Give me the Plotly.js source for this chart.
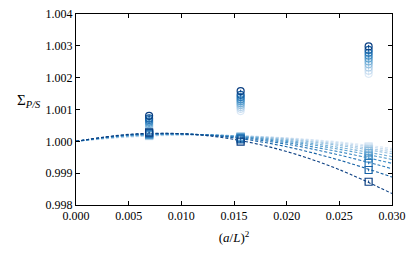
<!DOCTYPE html>
<html>
<head>
<meta charset="utf-8">
<script src="https://cdn.plot.ly/plotly-3.0.1.min.js"></script>
<style>html,body{margin:0;padding:0;background:#fff;}#chart{width:415px;height:255px;}</style>
</head>
<body>
<div id="chart"></div>
<script>
// (a/L)^2 positions of the measurements
const xPoints = [0.00694, 0.01563, 0.02778];

// Circles (upper set), one entry per series, lightest -> darkest
const circAt1 = [1.00038, 1.00042, 1.00046, 1.00050, 1.00054, 1.00058, 1.00062, 1.00067, 1.00072, 1.00080];
const circAt2 = [1.00095, 1.00102, 1.00108, 1.00114, 1.00120, 1.00126, 1.00132, 1.00139, 1.00146, 1.00158];
const circAt3 = [1.00212, 1.00222, 1.00232, 1.00242, 1.00251, 1.00260, 1.00269, 1.00278, 1.00287, 1.00298];

// Squares (lower set)
const sqAt1 = [1.00016, 1.00017, 1.00018, 1.00019, 1.00020, 1.00021, 1.00022, 1.00024, 1.00026, 1.00028];
const sqAt2 = [1.00016, 1.00015, 1.00015, 1.00014, 1.00013, 1.00012, 1.00011, 1.00009, 1.00006, 0.99999];
const sqAt3 = [0.99984, 0.99980, 0.99975, 0.99970, 0.99963, 0.99955, 0.99946, 0.99932, 0.99910, 0.99873];

// Error bar half-widths
const errCirc = [0.00004, 0.00004, 0.00005];
const errSq = [0.00003, 0.00003, 0.00004];

const fitX = [0, 0.005, 0.010, 0.015, 0.020, 0.025, 0.030];
const fit0 = [1, 1.00013, 1.00019, 1.00018, 1.00011, 0.99998, 0.99978];
const fit1 = [1, 1.00014, 1.00020, 1.00018, 1.00010, 0.99995, 0.99973];
const fit2 = [1, 1.00015, 1.00021, 1.00018, 1.00008, 0.99991, 0.99967];
const fit3 = [1, 1.00016, 1.00021, 1.00017, 1.00006, 0.99987, 0.99961];
const fit4 = [1, 1.00017, 1.00022, 1.00017, 1.00003, 0.99981, 0.99952];
const fit5 = [1, 1.00018, 1.00022, 1.00016, 1.00000, 0.99975, 0.99943];
const fit6 = [1, 1.00019, 1.00023, 1.00015, 0.99996, 0.99967, 0.99931];
const fit7 = [1, 1.00020, 1.00023, 1.00013, 0.99991, 0.99957, 0.99914];
const fit8 = [1, 1.00021, 1.00024, 1.00011, 0.99983, 0.99941, 0.99888];
const fit9 = [1, 1.00022, 1.00024, 1.00006, 0.99968, 0.99911, 0.99836];
const fits = [fit0, fit1, fit2, fit3, fit4, fit5, fit6, fit7, fit8, fit9];

const colors = ['#dce9f6', '#c8ddf0', '#b0cfe8', '#95c1e0', '#78b1d8', '#5aa0cf', '#3f8bc3', '#2877b7', '#1561a5', '#0b3f82'];

const serif = 'Liberation Serif, DejaVu Serif, serif';

const traces = [];
for (let i = 0; i < colors.length; i++) {
  traces.push({
    x: fitX, y: fits[i], mode: 'lines', type: 'scatter',
    line: {color: colors[i], width: 1.1, dash: '3px,2px', shape: 'spline'},
    hoverinfo: 'skip', showlegend: false
  });
}
for (let i = 0; i < colors.length; i++) {
  traces.push({
    x: xPoints, y: [circAt1[i], circAt2[i], circAt3[i]], mode: 'markers', type: 'scatter',
    marker: {symbol: 'circle-open', size: 7, color: colors[i], line: {width: 1.2, color: colors[i]}},
    error_y: {type: 'data', array: errCirc, color: colors[i], thickness: 1, width: 0},
    showlegend: false
  });
  traces.push({
    x: xPoints, y: [sqAt1[i], sqAt2[i], sqAt3[i]], mode: 'markers', type: 'scatter',
    marker: {symbol: 'square-open', size: 7, color: colors[i], line: {width: 1.2, color: colors[i]}},
    error_y: {type: 'data', array: errSq, color: colors[i], thickness: 1, width: 0},
    showlegend: false
  });
}

const axisCommon = {
  showline: true, linecolor: '#000', linewidth: 1, mirror: 'ticks',
  ticks: 'inside', ticklen: 4, tickwidth: 1, tickcolor: '#000',
  showgrid: false, zeroline: false,
  tickfont: {family: serif, size: 12, color: '#000'}
};

const layout = {
  width: 415, height: 255,
  margin: {l: 76, r: 23, t: 14, b: 50},
  paper_bgcolor: '#fff', plot_bgcolor: '#fff',
  xaxis: Object.assign({}, axisCommon, {
    range: [0, 0.03], tickvals: [0, 0.005, 0.01, 0.015, 0.02, 0.025, 0.03], tickformat: '.3f',
    title: {text: '(<i>a</i>/<i>L</i>)<sup>2</sup>', font: {family: serif, size: 13, color: '#000'}, standoff: 10}
  }),
  yaxis: Object.assign({}, axisCommon, {
    range: [0.998, 1.004], tickvals: [0.998, 0.999, 1.000, 1.001, 1.002, 1.003, 1.004], tickformat: '.3f'
  }),
  annotations: [{
    xref: 'paper', yref: 'paper', x: -0.15, y: 0.545, xanchor: 'center', yanchor: 'middle',
    text: 'Σ<sub><i>P/S</i></sub>', showarrow: false,
    font: {family: serif, size: 15, color: '#000'}
  }]
};

Plotly.newPlot('chart', traces, layout, {displayModeBar: false, staticPlot: true});
</script>
</body>
</html>
